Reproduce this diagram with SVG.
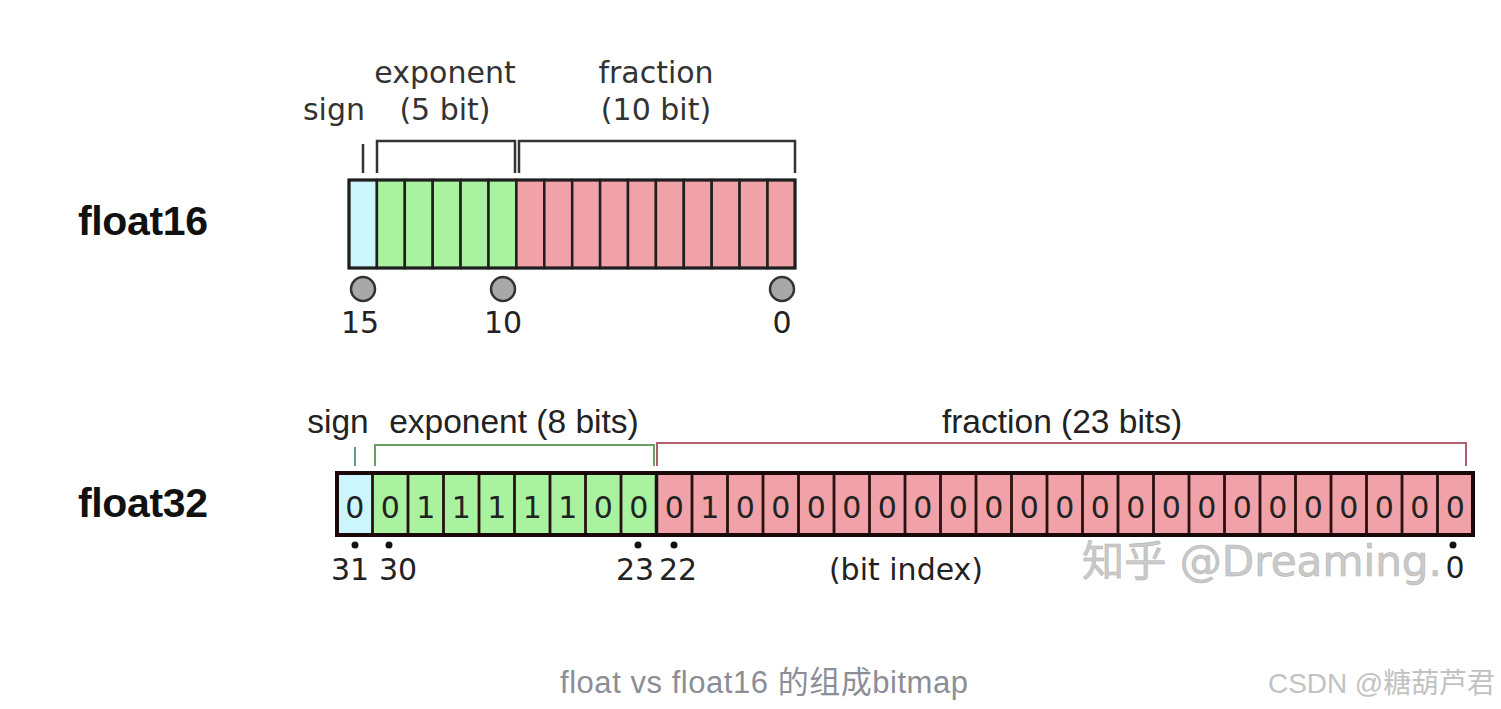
<svg xmlns="http://www.w3.org/2000/svg" width="1501" height="709" viewBox="0 0 1501 709">
<style>
.lbl{font-family:"DejaVu Sans",sans-serif;font-size:30px;fill:#333;text-anchor:middle}
.lbl32{font-family:"Liberation Sans",Arial,sans-serif;font-size:33.5px;fill:#222;text-anchor:middle}
.idx{font-family:"DejaVu Sans",sans-serif;font-size:30px;fill:#222;text-anchor:middle}
.bit{font-family:"DejaVu Sans",sans-serif;font-size:30px;fill:#222;text-anchor:middle}
.title{font-family:"Liberation Sans",Arial,sans-serif;font-weight:bold;font-size:41px;fill:#111}
.s{fill:#ccf6fb}.e{fill:#a9f2a0}.f{fill:#f0a2a8}
.c16{stroke:#1f1f1f;stroke-width:2.5}
.c32{stroke:#2a1010;stroke-width:2.8}
.br{fill:none;stroke:#333;stroke-width:2.5}
.dot16{fill:#a8a8a8;stroke:#333;stroke-width:2.5}
</style>
<rect width="1501" height="709" fill="#fff"/>

<g id="float16">
  <text class="title" x="78" y="235" textLength="130">float16</text>
  <text class="lbl" x="334" y="120">sign</text>
  <text class="lbl" x="445" y="83">exponent</text>
  <text class="lbl" x="445" y="120">(5 bit)</text>
  <text class="lbl" x="656" y="83">fraction</text>
  <text class="lbl" x="656" y="120">(10 bit)</text>
  <g id="f16-brackets">
    <path class="br" d="M363,144 V173"/>
    <path class="br" d="M377,173 V141 H515 V173"/>
    <path class="br" d="M519,173 V141 H795 V173"/>
  </g>
  <g id="f16-cells">
    <rect class="s c16" x="349" y="180" width="27.9" height="88"/>
    <rect class="e c16" x="376.9" y="180" width="27.9" height="88"/>
    <rect class="e c16" x="404.8" y="180" width="27.9" height="88"/>
    <rect class="e c16" x="432.7" y="180" width="27.9" height="88"/>
    <rect class="e c16" x="460.6" y="180" width="27.9" height="88"/>
    <rect class="e c16" x="488.5" y="180" width="27.9" height="88"/>
    <rect class="f c16" x="516.4" y="180" width="27.9" height="88"/>
    <rect class="f c16" x="544.3" y="180" width="27.9" height="88"/>
    <rect class="f c16" x="572.2" y="180" width="27.9" height="88"/>
    <rect class="f c16" x="600.1" y="180" width="27.9" height="88"/>
    <rect class="f c16" x="628" y="180" width="27.9" height="88"/>
    <rect class="f c16" x="655.9" y="180" width="27.9" height="88"/>
    <rect class="f c16" x="683.8" y="180" width="27.9" height="88"/>
    <rect class="f c16" x="711.7" y="180" width="27.9" height="88"/>
    <rect class="f c16" x="739.6" y="180" width="27.9" height="88"/>
    <rect class="f c16" x="767.5" y="180" width="27.5" height="88"/>
    <rect x="349" y="180" width="446" height="88" fill="none" stroke="#1f1f1f" stroke-width="3"/>
  </g>
  <circle class="dot16" cx="363" cy="289" r="12"/>
  <circle class="dot16" cx="503" cy="289" r="12"/>
  <circle class="dot16" cx="782" cy="289" r="12"/>
  <text class="idx" x="360" y="333">15</text>
  <text class="idx" x="503" y="333">10</text>
  <text class="idx" x="782" y="333">0</text>
</g>

<g id="float32">
  <text class="title" x="78" y="517" textLength="130">float32</text>
  <text class="lbl32" x="338" y="433">sign</text>
  <text class="lbl32" x="514" y="433">exponent (8 bits)</text>
  <text class="lbl32" x="1062" y="433">fraction (23 bits)</text>
  <g id="f32-brackets">
    <path d="M355,447 V466" fill="none" stroke="#5b9c94" stroke-width="2"/>
    <path d="M375,466 V445 H654 V466" fill="none" stroke="#6a9e62" stroke-width="2"/>
    <path d="M657,466 V443 H1466 V466" fill="none" stroke="#b0606a" stroke-width="2"/>
  </g>
  <g id="f32-cells">
    <rect class="s" x="337" y="473" width="35.5" height="62"/>
    <rect class="e" x="372.5" y="473" width="284" height="62"/>
    <rect class="f" x="656.5" y="473" width="816.5" height="62"/>
    <path class="c32" d="M372.5,473V535M408,473V535M443.5,473V535M479,473V535M514.5,473V535M550,473V535M585.5,473V535M621,473V535M656.5,473V535M692,473V535M727.5,473V535M763,473V535M798.5,473V535M834,473V535M869.5,473V535M905,473V535M940.5,473V535M976,473V535M1011.5,473V535M1047,473V535M1082.5,473V535M1118,473V535M1153.5,473V535M1189,473V535M1224.5,473V535M1260,473V535M1295.5,473V535M1331,473V535M1366.5,473V535M1402,473V535M1437.5,473V535"/>
    <rect x="337" y="473" width="1136" height="62" fill="none" stroke="#1a0808" stroke-width="4"/>
    <path d="M656.5,473V535" stroke="#111" stroke-width="3.5"/>
  </g>
  <g id="f32-bits">
    <text class="bit" x="354.75" y="518">0</text>
    <text class="bit" x="390.25" y="518">0</text>
    <text class="bit" x="425.75" y="518">1</text>
    <text class="bit" x="461.25" y="518">1</text>
    <text class="bit" x="496.75" y="518">1</text>
    <text class="bit" x="532.25" y="518">1</text>
    <text class="bit" x="567.75" y="518">1</text>
    <text class="bit" x="603.25" y="518">0</text>
    <text class="bit" x="638.75" y="518">0</text>
    <text class="bit" x="674.25" y="518">0</text>
    <text class="bit" x="709.75" y="518">1</text>
    <text class="bit" x="745.25" y="518">0</text>
    <text class="bit" x="780.75" y="518">0</text>
    <text class="bit" x="816.25" y="518">0</text>
    <text class="bit" x="851.75" y="518">0</text>
    <text class="bit" x="887.25" y="518">0</text>
    <text class="bit" x="922.75" y="518">0</text>
    <text class="bit" x="958.25" y="518">0</text>
    <text class="bit" x="993.75" y="518">0</text>
    <text class="bit" x="1029.25" y="518">0</text>
    <text class="bit" x="1064.75" y="518">0</text>
    <text class="bit" x="1100.25" y="518">0</text>
    <text class="bit" x="1135.75" y="518">0</text>
    <text class="bit" x="1171.25" y="518">0</text>
    <text class="bit" x="1206.75" y="518">0</text>
    <text class="bit" x="1242.25" y="518">0</text>
    <text class="bit" x="1277.75" y="518">0</text>
    <text class="bit" x="1313.25" y="518">0</text>
    <text class="bit" x="1348.75" y="518">0</text>
    <text class="bit" x="1384.25" y="518">0</text>
    <text class="bit" x="1419.75" y="518">0</text>
    <text class="bit" x="1455.25" y="518">0</text>
  </g>
  <g id="f32-index">
    <circle cx="355" cy="545" r="3.5" fill="#111"/>
    <circle cx="389" cy="545" r="3.5" fill="#111"/>
    <circle cx="638" cy="545" r="3.5" fill="#111"/>
    <circle cx="674" cy="545" r="3.5" fill="#111"/>
    <circle cx="1453" cy="545" r="3.5" fill="#111"/>
    <text class="idx" x="350" y="580">31</text>
    <text class="idx" x="398" y="580">30</text>
    <text class="idx" x="635" y="580">23</text>
    <text class="idx" x="678" y="580">22</text>
    <text class="idx" x="906" y="580">(bit index)</text>
  </g>
</g>

<g id="watermarks">
  <text x="1082" y="576" font-family="'DejaVu Sans','Noto Sans CJK SC',sans-serif" font-size="42" fill="#cacaca" stroke="#b4b4b4" stroke-width="0.6" textLength="360" lengthAdjust="spacingAndGlyphs">知乎 @Dreaming.</text>
  <text class="idx" x="1455" y="578">0</text>
  <text x="764" y="693" text-anchor="middle" font-family="'Liberation Sans','Noto Sans CJK SC',sans-serif" font-size="31" fill="#8b8e97" textLength="408">float vs float16 的组成bitmap</text>
  <text x="1268" y="693" font-family="'Liberation Sans','Noto Sans CJK SC',sans-serif" font-size="28" fill="#c2c2c2" textLength="227">CSDN @糖葫芦君</text>
</g>
</svg>
